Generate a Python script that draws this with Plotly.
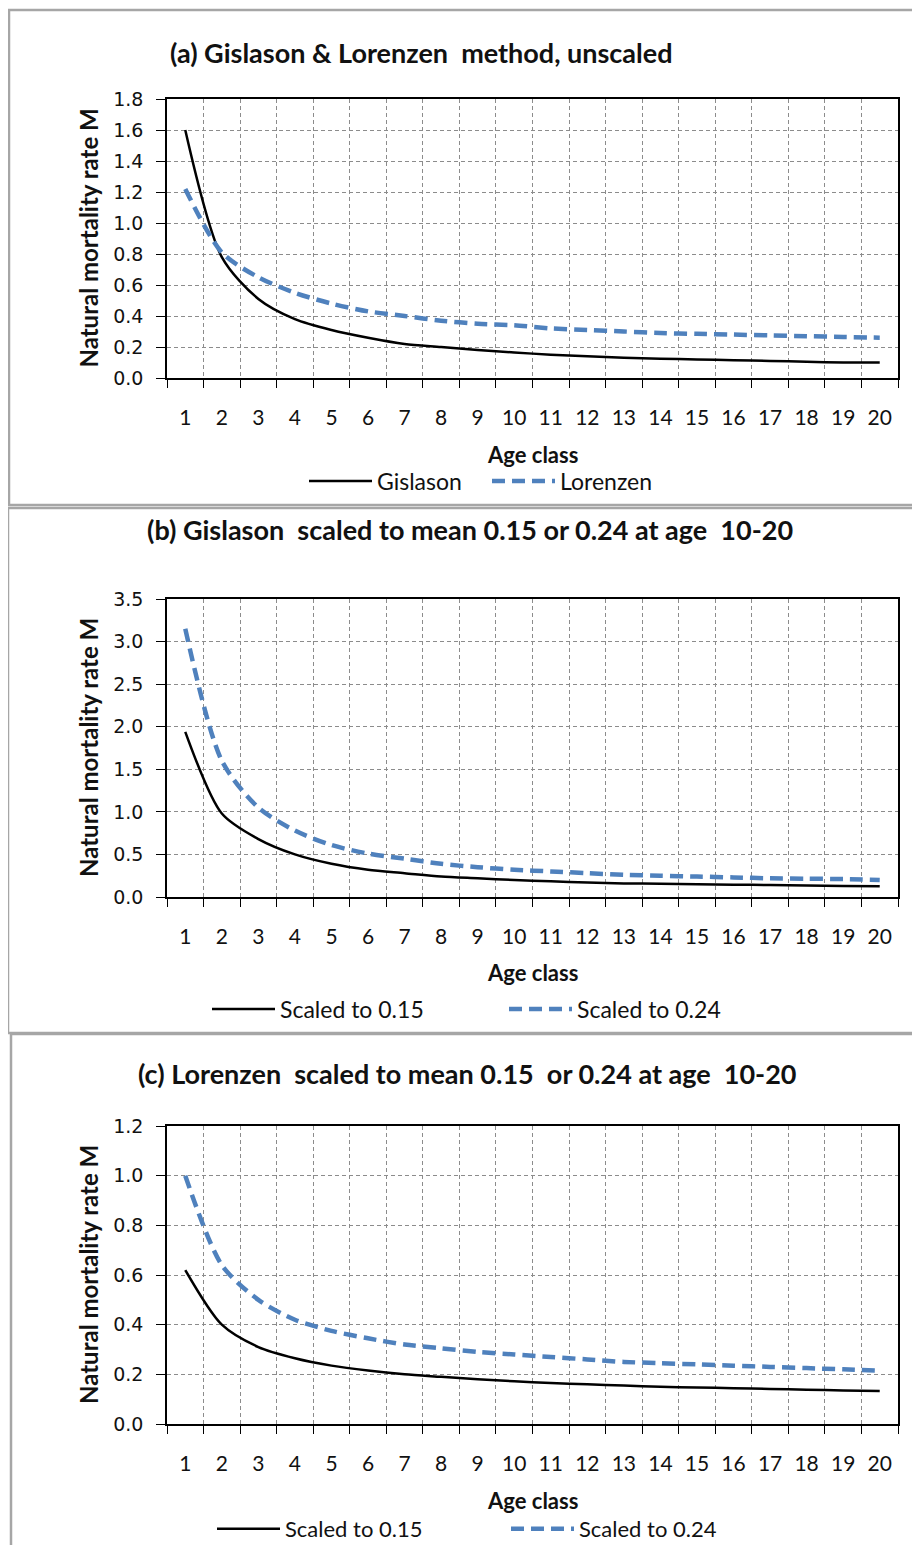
import plotly.graph_objects as go

# ---------------- data ----------------
ages = list(range(1, 21))
age_labels = [str(a) for a in ages]

# (a) unscaled
gislason = [1.60, 0.78, 0.51, 0.38, 0.31, 0.26, 0.22, 0.20, 0.18, 0.165,
            0.15, 0.14, 0.13, 0.125, 0.12, 0.115, 0.11, 0.105, 0.10, 0.10]
lorenzen = [1.22, 0.81, 0.65, 0.55, 0.48, 0.43, 0.40, 0.37, 0.35, 0.34,
            0.32, 0.31, 0.30, 0.29, 0.285, 0.28, 0.275, 0.27, 0.265, 0.26]

# (b) Gislason scaled
gis_015 = [1.94, 0.98, 0.68, 0.50, 0.39, 0.32, 0.28, 0.24, 0.22, 0.20,
           0.185, 0.17, 0.16, 0.155, 0.15, 0.145, 0.14, 0.135, 0.13, 0.125]
gis_024 = [3.15, 1.60, 1.05, 0.78, 0.61, 0.51, 0.45, 0.39, 0.35, 0.32,
           0.30, 0.28, 0.26, 0.25, 0.24, 0.23, 0.22, 0.215, 0.21, 0.20]

# (c) Lorenzen scaled
lor_015 = [0.62, 0.40, 0.31, 0.265, 0.235, 0.215, 0.20, 0.19, 0.18, 0.172,
           0.165, 0.16, 0.155, 0.15, 0.147, 0.144, 0.141, 0.138, 0.135, 0.133]
lor_024 = [1.00, 0.64, 0.50, 0.42, 0.375, 0.345, 0.32, 0.305, 0.29, 0.28,
           0.27, 0.26, 0.25, 0.245, 0.24, 0.235, 0.23, 0.225, 0.22, 0.215]

titles = ["(a) Gislason & Lorenzen  method, unscaled",
          "(b) Gislason  scaled to mean 0.15 or 0.24 at age  10-20",
          "(c) Lorenzen  scaled to mean 0.15  or 0.24 at age  10-20"]
series_names = [["Gislason", "Lorenzen"],
                ["Scaled to 0.15", "Scaled to 0.24"],
                ["Scaled to 0.15", "Scaled to 0.24"]]
series_values = [[gislason, lorenzen], [gis_015, gis_024], [lor_015, lor_024]]
y_max = [1.8, 3.5, 1.2]
y_dtick = [0.2, 0.5, 0.2]
y_title = "Natural mortality rate M"
x_title = "Age class"

# ---------------- layout geometry (page pixels) ----------------
OFFX, OFFY = 8, 8            # default body margin of the html page
W, H = 904, 1537
def fx(p):
    return (p - OFFX) / W
def fy(p):
    return 1 - (p - OFFY) / H

plot_left, plot_right = 167, 898
plot_tb = [(99, 378), (599, 897), (1126, 1424)]
title_pos = [(421, 53), (470, 530), (467, 1073)]
xtitle_y = [455, 973, 1500]
legend_cfg = [dict(x=304, y=481, entry=105, size=23),
              dict(x=207, y=1009, entry=219, size=23),
              dict(x=212, y=1529, entry=216, size=22)]
boxes = [(9, 10, 930, 505), (8, 508, 930, 1033), (11, 1034, 930, 1600)]

TITLE_FONT = "Lato, 'Open Sans', sans-serif"
TICK_FONT = "'DejaVu Sans', Verdana, sans-serif"
XTICK_FONT = "Lato, sans-serif"
BLACK = "#000000"
BLUE = "#4f81bd"
TXT = "#111111"
GRID = "#8c8c8c"

fig = go.Figure()
annotations = []
shapes = []

for i in range(3):
    n = "" if i == 0 else str(i + 1)
    xa, ya = "x" + n, "y" + n
    leg = "legend" + n
    names = series_names[i]
    vals = series_values[i]
    fig.add_trace(go.Scatter(x=ages, y=vals[0], name=names[0], mode="lines",
                             line=dict(color=BLACK, width=2.5, shape="spline", smoothing=0.8),
                             xaxis=xa, yaxis=ya, legend=leg))
    fig.add_trace(go.Scatter(x=ages, y=vals[1], name=names[1], mode="lines",
                             line=dict(color=BLUE, width=4.5, shape="spline", smoothing=0.8,
                                       dash="13px,7px"),
                             xaxis=xa, yaxis=ya, legend=leg))
    top, bot = plot_tb[i]
    xkey = "xaxis" + n
    ykey = "yaxis" + n
    fig.update_layout({
        xkey: dict(domain=[fx(plot_left), fx(plot_right)], anchor=ya,
                   range=[0.5, 20.5], tickvals=ages, ticktext=age_labels,
                   ticks="", showgrid=False, zeroline=False, automargin=False,
                   showline=True, linecolor="#000000", linewidth=1.5, mirror=True,
                   tickfont=dict(family=XTICK_FONT, size=21, color=TXT),
                   ticklabelstandoff=20,
                   minor=dict(tick0=0.5, dtick=1, ticks="outside", ticklen=8,
                              tickcolor="#000000", tickwidth=1,
                              showgrid=True, gridcolor=GRID, griddash="4px,3px",
                              gridwidth=1)),
        ykey: dict(domain=[fy(bot), fy(top)], anchor=xa,
                   range=[0, y_max[i]], dtick=y_dtick[i], tick0=0, tickformat=".1f",
                   ticks="outside", ticklen=9, tickcolor="#000000", tickwidth=1,
                   showgrid=True, gridcolor=GRID, griddash="4px,3px", gridwidth=1,
                   zeroline=False, showline=True, linecolor="#000000", linewidth=1.5,
                   mirror=True, ticklabelstandoff=9, automargin=False,
                   tickfont=dict(family=TICK_FONT, size=19, color=TXT)),
        leg: dict(orientation="h", x=fx(legend_cfg[i]["x"]), y=fy(legend_cfg[i]["y"]),
                  xanchor="left", yanchor="middle", xref="paper", yref="paper",
                  entrywidth=legend_cfg[i]["entry"], entrywidthmode="pixels",
                  bgcolor="rgba(0,0,0,0)", itemwidth=63,
                  font=dict(family=TITLE_FONT, size=legend_cfg[i]["size"], color=TXT)),
    })
    tx, ty = title_pos[i]
    annotations.append(dict(text="<b>" + titles[i] + "</b>", x=fx(tx), y=fy(ty),
                            xref="paper", yref="paper", showarrow=False,
                            xanchor="center", yanchor="middle",
                            font=dict(family=TITLE_FONT, size=27, color=TXT)))
    annotations.append(dict(text="<b>" + y_title + "</b>", x=fx(88), y=fy((top + bot) / 2),
                            xref="paper", yref="paper", showarrow=False, textangle=-90,
                            xanchor="center", yanchor="middle",
                            font=dict(family=TITLE_FONT, size=24, color=TXT)))
    annotations.append(dict(text="<b>" + x_title + "</b>",
                            x=fx((plot_left + plot_right) / 2), y=fy(xtitle_y[i]),
                            xref="paper", yref="paper", showarrow=False,
                            xanchor="center", yanchor="middle",
                            font=dict(family=TITLE_FONT, size=22, color=TXT)))
    bx0, by0, bx1, by1 = boxes[i]
    shapes.append(dict(type="rect", xref="paper", yref="paper",
                       x0=fx(bx0), x1=fx(bx1), y0=fy(by1), y1=fy(by0),
                       line=dict(color="#a6a6a6", width=2.5), layer="below"))

fig.update_layout(width=W, height=H,
                  margin=dict(l=0, r=0, t=0, b=0, pad=0, autoexpand=False),
                  paper_bgcolor="white", plot_bgcolor="white",
                  annotations=annotations, shapes=shapes, showlegend=True)

fig.write_html("out.html")
